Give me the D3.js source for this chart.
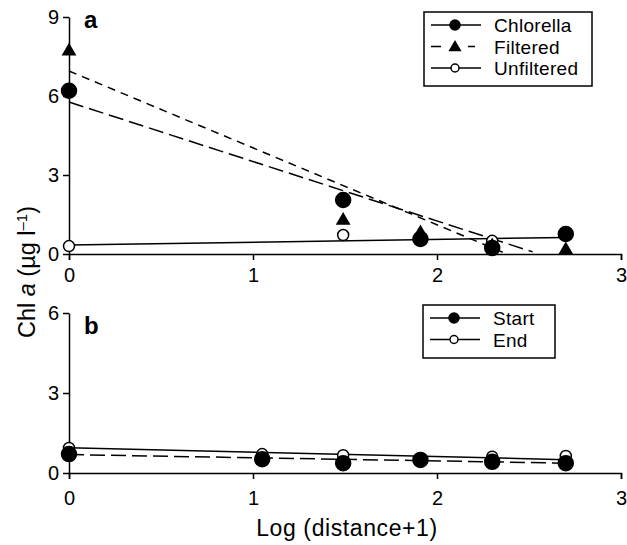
<!DOCTYPE html>
<html>
<head>
<meta charset="utf-8">
<script src="https://cdn.jsdelivr.net/npm/d3@7"></script>
<style>
  body { margin: 0; background: #fff; }
  svg { font-family: "Liberation Sans", Arial, sans-serif; }
  .axis path, .axis line { stroke: #000; stroke-width: 1.5; }
  .axis text { font-size: 20px; fill: #000; }
</style>
</head>
<body>
<svg id="chart" width="627" height="545"></svg>
<script>
// x positions (log(distance+1)) of the sampling stations
const xsA = [0, 1.49, 1.91, 2.3, 2.7];
const xsB = [0, 1.05, 1.49, 1.91, 2.3, 2.7];

// panel a — Chl a (µg l-1)
const chlorella  = [6.2, 2.05, 0.57, 0.23, 0.76];
const filtered   = [7.7, 1.27, 0.8, 0.3, 0.15];
const unfiltered = [0.3, 0.72, 0.6, 0.5, 0.7];

// fitted lines, as end points [x, y]
const chlorellaFit  = [[0, 5.77], [2.52, 0.08]];
const filteredFit   = [[0, 6.95], [2.38, 0.0]];
const unfilteredFit = [[0, 0.34], [2.7, 0.63]];

// panel b
const start = [0.71, 0.52, 0.37, 0.49, 0.42, 0.37];
const end   = [0.94, 0.71, 0.67, 0.55, 0.61, 0.64];
const startFit = [[0, 0.69], [2.7, 0.37]];
const endFit   = [[0, 0.95], [2.7, 0.5]];

const xTicks = [0, 1, 2, 3];
const yTicksA = [0, 3, 6, 9];
const yTicksB = [0, 3, 6];

const svg = d3.select("#chart");
const x = d3.scaleLinear().domain([0, 3]).range([69, 621]);
const yA = d3.scaleLinear().domain([0, 9]).range([254, 17]);
const yB = d3.scaleLinear().domain([0, 6]).range([473, 313]);

const LONG = "15,6", SHORT = "8,6";

function drawAxes(y, yTicks, pad) {
  svg.append("g").attr("class", "axis")
    .attr("transform", `translate(0,${y(0)})`)
    .call(d3.axisBottom(x).tickValues(xTicks).tickFormat(d3.format("d"))
      .tickSize(6).tickSizeOuter(6).tickPadding(pad));
  svg.append("g").attr("class", "axis")
    .attr("transform", `translate(${x(0)},0)`)
    .call(d3.axisLeft(y).tickValues(yTicks).tickFormat(d3.format("d"))
      .tickSize(6).tickSizeOuter(0).tickPadding(4));
}

function fitLine(pts, y, dash) {
  svg.append("path")
    .attr("d", d3.line().x(d => x(d[0])).y(d => y(d[1]))(pts))
    .attr("fill", "none").attr("stroke", "#000").attr("stroke-width", 1.5)
    .attr("stroke-dasharray", dash);
}

function marks(xs, vals, y, kind) {
  const data = xs.map((v, i) => [v, vals[i]]);
  const g = svg.append("g");
  if (kind === "tri") {
    g.selectAll("path").data(data).join("path")
      .attr("d", d3.symbol(d3.symbolTriangle, 95))
      .attr("transform", d => `translate(${x(d[0])},${y(d[1])})`)
      .attr("fill", "#000");
  } else {
    g.selectAll("circle").data(data).join("circle")
      .attr("cx", d => x(d[0])).attr("cy", d => y(d[1]))
      .attr("r", kind === "filled" ? 7.5 : 5.5)
      .attr("fill", kind === "filled" ? "#000" : "#fff")
      .attr("stroke", "#000").attr("stroke-width", 1.5);
  }
}

function legend(x0, y0, w, h, items) {
  const g = svg.append("g");
  g.append("rect").attr("x", x0).attr("y", y0).attr("width", w).attr("height", h)
    .attr("fill", "#fff").attr("stroke", "#000").attr("stroke-width", 1.5);
  items.forEach((it, i) => {
    const cy = y0 + 13 + i * 21.5;
    g.append("line").attr("x1", x0 + 7).attr("x2", x0 + 57).attr("y1", cy).attr("y2", cy)
      .attr("stroke", "#000").attr("stroke-width", 1.5)
      .attr("stroke-dasharray", it.dash || null);
    if (it.kind === "tri") {
      g.append("path").attr("d", d3.symbol(d3.symbolTriangle, 75))
        .attr("transform", `translate(${x0 + 31},${cy + 1})`)
        .attr("fill", "#000");
    } else {
      g.append("circle").attr("cx", x0 + 31).attr("cy", cy)
        .attr("r", it.kind === "filled" ? 5 : 4)
        .attr("fill", it.kind === "filled" ? "#000" : "#fff")
        .attr("stroke", "#000").attr("stroke-width", 1.5);
    }
    g.append("text").attr("x", x0 + 70).attr("y", cy + 7)
      .attr("font-size", 19).attr("letter-spacing", 0.3).text(it.label);
  });
}

// ---- panel a
drawAxes(yA, yTicksA, 8);
fitLine(unfilteredFit, yA, null);
fitLine(chlorellaFit, yA, LONG);
fitLine(filteredFit, yA, SHORT);
marks(xsA, unfiltered, yA, "open");
marks(xsA, filtered, yA, "tri");
marks(xsA, chlorella, yA, "filled");
svg.append("text").attr("x", 84).attr("y", 28).attr("font-size", 24)
  .attr("font-weight", "bold").text("a");
legend(424, 12, 168, 74, [
  { label: "Chlorella", kind: "filled" },
  { label: "Filtered", kind: "tri", dash: "10,27,7,100" },
  { label: "Unfiltered", kind: "open" }
]);

// ---- panel b
drawAxes(yB, yTicksB, 12);
fitLine(endFit, yB, null);
fitLine(startFit, yB, LONG);
marks(xsB, end, yB, "open");
marks(xsB, start, yB, "filled");
svg.append("text").attr("x", 84).attr("y", 334).attr("font-size", 24)
  .attr("font-weight", "bold").text("b");
legend(423, 305, 132, 53, [
  { label: "Start", kind: "filled" },
  { label: "End", kind: "open" }
]);

// ---- axis titles
svg.append("text").attr("x", 347).attr("y", 536).attr("text-anchor", "middle")
  .attr("font-size", 23).attr("letter-spacing", 0.6).text("Log (distance+1)");

const yt = svg.append("text").attr("transform", "translate(35,272) rotate(-90)")
  .attr("text-anchor", "middle").attr("font-size", 23.5);
yt.append("tspan").text("Chl ");
yt.append("tspan").attr("font-style", "italic").text("a");
yt.append("tspan").text(" (µg l");
yt.append("tspan").attr("baseline-shift", "super").attr("font-size", 15).text("–1");
yt.append("tspan").text(")");
</script>
</body>
</html>
